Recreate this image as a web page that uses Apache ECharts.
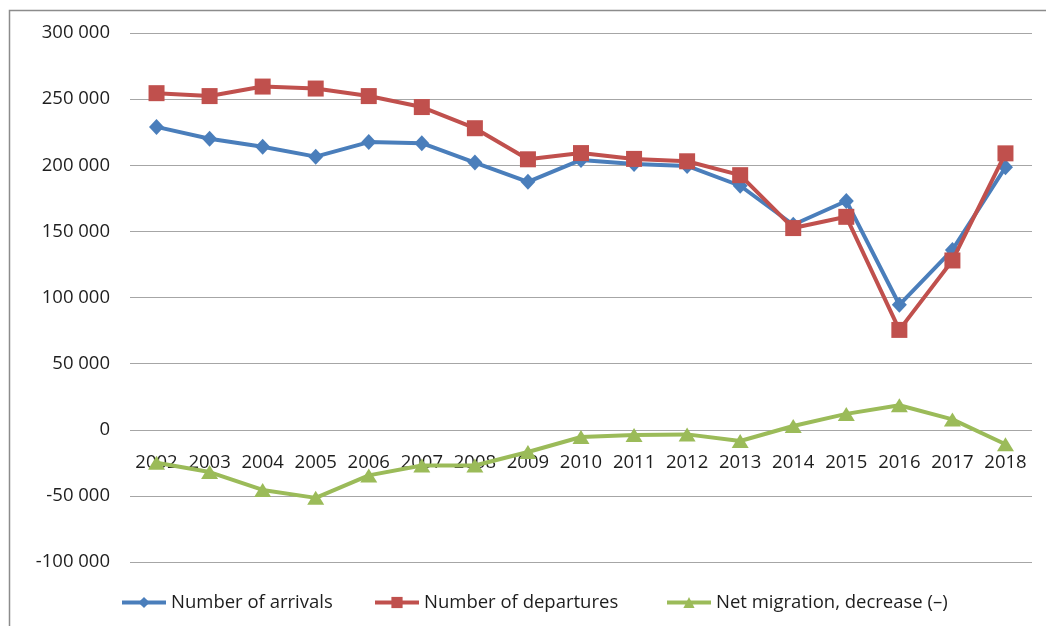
<!DOCTYPE html>
<html>
<head>
<meta charset="utf-8">
<script src="https://cdn.jsdelivr.net/npm/echarts@6/dist/echarts.min.js"></script>
<style>html,body{margin:0;padding:0;background:#fff}#c{width:1046px;height:626px}</style>
</head>
<body>
<div id="c"></div>
<script>
const years = ['2002','2003','2004','2005','2006','2007','2008','2009','2010','2011','2012','2013','2014','2015','2016','2017','2018'];
const arrivals = [229000,220000,214000,206500,217500,216700,202000,187500,204000,201000,199500,184500,155000,173000,94500,136000,198500];
const departures = [254500,252300,259500,258000,252300,244000,228000,204500,209200,204800,203000,192500,152500,161000,75500,128000,209000];
const netMigration = [-25000,-32000,-45500,-51500,-34500,-27000,-27000,-16800,-5500,-4000,-3500,-8500,2800,12000,18500,7800,-11000];
const yTicks = {min:-100000, max:300000, interval:50000};

const FONT = 'Open Sans';
const FS = 18.5;
const TXT = '#1e1e1e';
const chart = echarts.init(document.getElementById('c'));
function fmt(v){
  const neg = v < 0; const a = Math.abs(v);
  let s = String(a).replace(/\B(?=(\d{3})+(?!\d))/g, ' ');
  return (neg ? '-' : '') + s;
}
const legendBase = {orient:'horizontal', top:593, padding:0, itemWidth:44, itemHeight:14,
  lineStyle:{width:4}, textStyle:{fontFamily:FONT, fontSize:FS, color:TXT}};
chart.setOption({
  animation:false,
  textStyle:{fontFamily:FONT},
  graphic:[{type:'rect', shape:{x:9.5, y:10.5, width:1100, height:700}, style:{fill:'none', stroke:'#8c8c8c', lineWidth:1.5}, silent:true, z:-1}],
  grid:{left:130, right:14, top:33, bottom:64, containLabel:false},
  legend:[
    Object.assign({}, legendBase, {left:120, data:['Number of arrivals']}),
    Object.assign({}, legendBase, {left:373, data:['Number of departures']}),
    Object.assign({}, legendBase, {left:665, data:['Net migration, decrease (\u2013)']})
  ],
  xAxis:{type:'category', data:years, boundaryGap:true, offset:-132,
    axisLine:{show:false, onZero:false}, axisTick:{show:false},
    axisLabel:{margin:23, fontFamily:FONT, fontSize:FS, color:TXT, interval:0}},
  yAxis:{type:'value', min:yTicks.min, max:yTicks.max, interval:yTicks.interval,
    axisLine:{show:false}, axisTick:{show:false},
    splitLine:{lineStyle:{color:'#a6a6a6', width:1.2}},
    axisLabel:{margin:20, fontFamily:FONT, fontSize:FS, color:TXT, formatter:fmt}},
  series:[
    {name:'Number of arrivals', type:'line', data:arrivals, symbol:'diamond', symbolSize:[15,16],
      lineStyle:{color:'#4a7ebb', width:4}, itemStyle:{color:'#4a7ebb'}, z:3},
    {name:'Number of departures', type:'line', data:departures, symbol:'rect', symbolSize:16,
      lineStyle:{color:'#c0504d', width:4}, itemStyle:{color:'#c0504d'}, z:4},
    {name:'Net migration, decrease (\u2013)', type:'line', data:netMigration, symbol:'triangle', symbolSize:[17,14],
      lineStyle:{color:'#9bbb59', width:4}, itemStyle:{color:'#9bbb59'}, z:5}
  ]
});
</script>
</body>
</html>
